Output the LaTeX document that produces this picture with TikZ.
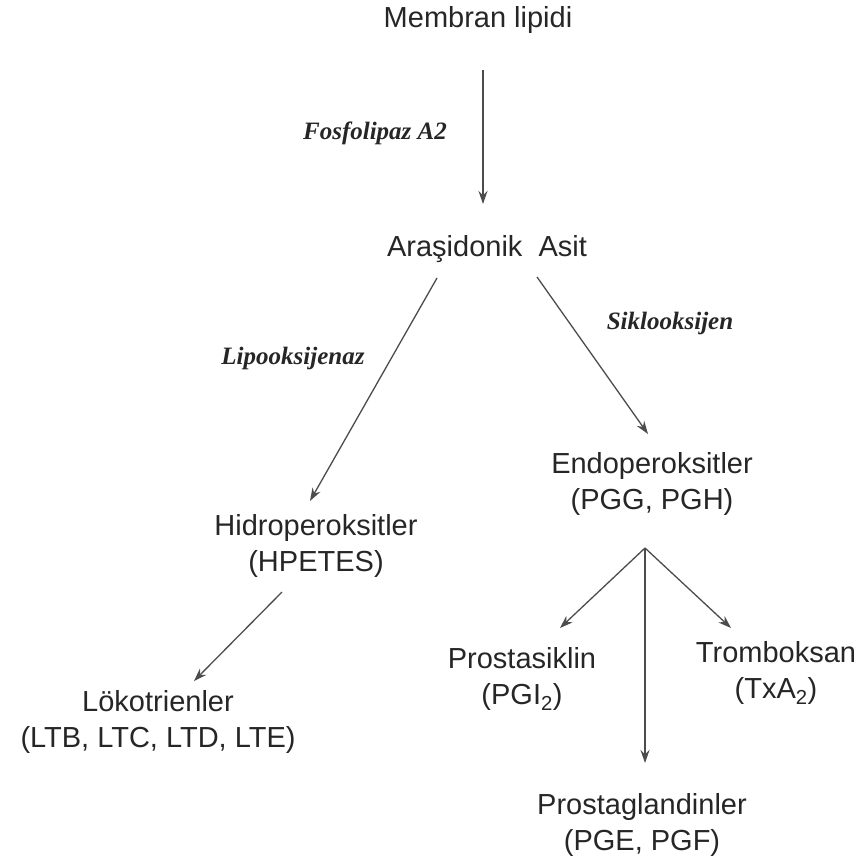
\documentclass[tikz,border=0pt]{standalone}
\usepackage{fontspec}
\setmainfont{Liberation Sans}
\newfontfamily\lblfont{Liberation Serif}
\usetikzlibrary{arrows.meta}
\begin{document}
\begin{tikzpicture}[x=1pt,y=-1pt,
  txt/.style={font=\fontsize{29}{36}\selectfont, text=black!85, align=center, inner sep=0pt},
  lbl/.style={font=\lblfont\bfseries\itshape\fontsize{25}{30}\selectfont, text=black!85, inner sep=0pt},
  arr/.style={draw=black!70, line width=1.3pt, -{Stealth[length=13pt,width=9pt]}}]
\path[use as bounding box] (0,0) rectangle (859,861);

\node[txt] (mem) at (478,20) {Membran lipidi};
\node[txt] (ara) at (487,249) {Araşidonik\ \ Asit};
\node[txt] (endo) at (652,484) {Endoperoksitler\\(PGG, PGH)};
\node[txt] (hidro) at (316,546) {Hidroperoksitler\\(HPETES)};
\node[txt] (lok) at (158,722) {Lökotrienler\\(LTB, LTC, LTD, LTE)};
\node[txt] (pros) at (522,679) {Prostasiklin\\(PGI\textsubscript{2})};
\node[txt] (trom) at (776,673) {Tromboksan\\(TxA\textsubscript{2})};
\node[txt] (pgl) at (642,825) {Prostaglandinler\\(PGE, PGF)};

\node[lbl] (l1) at (375,133) {Fosfolipaz A2};
\node[lbl] (l2) at (293,358) {Lipooksijenaz};
\node[lbl] (l3) at (670,323) {Siklooksijen};

\coordinate (a1s) at (483,70);
\coordinate (a1e) at (483,204);
\coordinate (a2s) at (437,278);
\coordinate (a2e) at (310,501);
\coordinate (a3s) at (537,277);
\coordinate (a3e) at (648,434);
\coordinate (a4s) at (282,592);
\coordinate (a4e) at (194,681);
\coordinate (br) at (645,548);
\coordinate (b1) at (560,628);
\coordinate (b2) at (731,628);
\coordinate (b3) at (645,763);

\draw[arr] (a1s) -- (a1e);
\draw[arr] (a2s) -- (a2e);
\draw[arr] (a3s) -- (a3e);
\draw[arr] (a4s) -- (a4e);
\draw[arr] (br) -- (b1);
\draw[arr] (br) -- (b2);
\draw[arr] (br) -- (b3);
\end{tikzpicture}
\end{document}
